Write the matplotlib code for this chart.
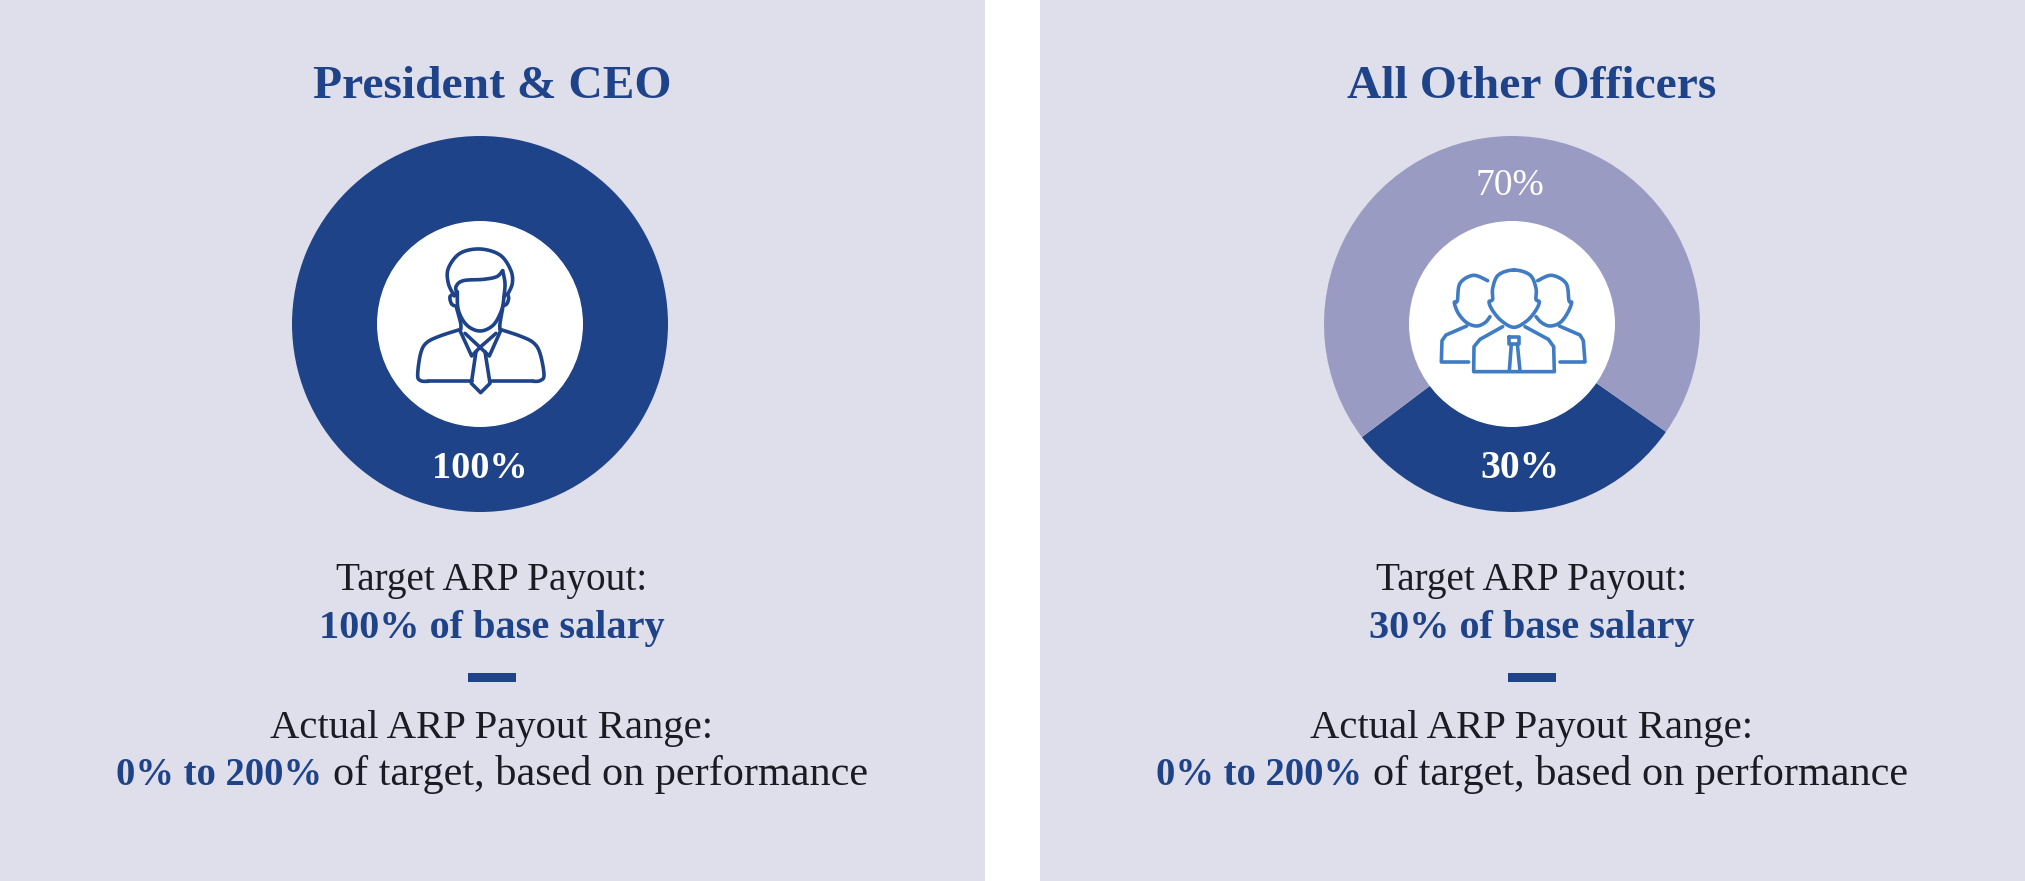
import numpy as np
import matplotlib
matplotlib.use('Agg')
import matplotlib.pyplot as plt
from matplotlib.patches import Circle, Rectangle

W, H = 2025, 881
NAVY = '#1e4388'
LILAC = '#9a9bc2'
PANEL = '#dfdfec'
INK = '#1b1b24'
ICON_BLUE = '#3f7cc4'
SERIF = 'Liberation Serif'

titles = ['President & CEO', 'All Other Officers']
ceo_shares = [100]
officer_shares = [30, 70]
ceo_labels = ['100%']
officer_labels = ['30%', '70%']
target_lines = ['100% of base salary', '30% of base salary']
range_bold = '0% to 200%'
range_rest = ' of target, based on performance'

fig = plt.figure(figsize=(W / 100, H / 100), dpi=100, facecolor='white')
bg = fig.add_axes([0, 0, 1, 1])
bg.set_xlim(0, W)
bg.set_ylim(H, 0)
bg.axis('off')


def donut(cx, cy, r, shares, colors, start):
    ax = fig.add_axes([(cx - r) / W, 1 - (cy + r) / H, 2 * r / W, 2 * r / H])
    ax.pie(shares, colors=colors, startangle=start, counterclock=True, radius=1,
           wedgeprops={'linewidth': 0})
    ax.set_xlim(-1, 1)
    ax.set_ylim(-1, 1)
    ax.add_patch(Circle((0, 0), 103 / r, fc='white', ec='none'))
    ax.patch.set_alpha(0)
    return ax


def smooth(pts, closed=False, n=12):
    # catmull-rom through the traced points, keeps the icons from looking polygonal
    p = np.array(pts, dtype=float)
    if closed:
        p = np.vstack([p[-1], p, p[0], p[1]])
    else:
        p = np.vstack([p[0], p, p[-1]])
    out = []
    t = np.linspace(0, 1, n, endpoint=False)[:, None]
    for i in range(1, len(p) - 2):
        a, b, c, d = p[i - 1], p[i], p[i + 1], p[i + 2]
        out.append(0.5 * (2 * b + (c - a) * t + (2 * a - 5 * b + 4 * c - d) * t ** 2
                          + (3 * b - a - 3 * c + d) * t ** 3))
    out.append(p[len(p) - 2][None])
    return np.vstack(out)


def stroke(ax0, ox, oy, pts, color, curved=True, closed=False, lw=2.6):
    xy = smooth(pts, closed) if curved else np.array(pts, dtype=float)
    if closed and not curved:
        xy = np.vstack([xy, xy[0]])
    ax0.plot(ox + xy[:, 0] / 3, oy + xy[:, 1] / 3, color=color, lw=lw,
             solid_capstyle='round', solid_joinstyle='round', zorder=6)


def mixed_line(left, base_y, bold, rest, bold_size, rest_size):
    # bold run followed by a regular run on the same baseline
    t = bg.text(left, base_y, bold, family=SERIF, weight='bold', color=NAVY, fontsize=bold_size, va='baseline', ha='left')
    fig.canvas.draw()
    box = t.get_window_extent()
    bg.text(box.x1 + 11, base_y, rest.strip(), family=SERIF, color=INK, fontsize=rest_size, va='baseline', ha='left')


def panel(x0, x1, title, target, text_dx):
    bg.add_patch(Rectangle((x0, 0), x1 - x0, H, fc=PANEL, ec='none'))
    mid = 492 + text_dx
    bg.text(mid, 98, title, family=SERIF, weight='bold', color=NAVY, fontsize=34.2, ha='center', va='baseline')
    bg.text(mid, 590, 'Target ARP Payout:', family=SERIF, color=INK, fontsize=28.3, ha='center', va='baseline')
    bg.text(mid, 638, target, family=SERIF, weight='bold', color=NAVY, fontsize=29, ha='center', va='baseline')
    bg.add_patch(Rectangle((mid - 24, 673), 48, 9, fc=NAVY, ec='none'))
    bg.text(mid, 738, 'Actual ARP Payout Range:', family=SERIF, color=INK, fontsize=29.3, ha='center', va='baseline')
    mixed_line(116 + text_dx, 785, range_bold, range_rest, 27.8, 30.4)


panel(0, 985, titles[0], target_lines[0], 0)
panel(1040, W, titles[1], target_lines[1], 1040)

# donuts sit a little left of the panel centres
fig.canvas.draw()
donut(480, 324, 188, ceo_shares, [NAVY], 90)
donut(1512, 324, 188, officer_shares, [NAVY, LILAC], 217)

fg = fig.add_axes([0, 0, 1, 1])
fg.set_xlim(0, W)
fg.set_ylim(H, 0)
fg.axis('off')
fg.patch.set_alpha(0)

fg.text(480, 478, ceo_labels[0], family=SERIF, weight='bold', color='white', fontsize=27.5, ha='center', va='baseline')
fg.text(1520, 478, officer_labels[0], family=SERIF, weight='bold', color='white', fontsize=28.5, ha='center', va='baseline')
fg.text(1510, 195, officer_labels[1], family=SERIF, color='white', fontsize=27, ha='center', va='baseline')

# president icon, traced in zoomed-crop coordinates
ox, oy = 270, 120
for pts in [
    [(553, 528), (535, 490), (535, 445), (570, 400), (630, 387), (690, 405), (722, 450), (727, 490), (712, 525)],
    [(562, 525), (558, 500), (580, 482), (640, 478), (680, 470), (698, 452)],
    [(698, 452), (705, 490), (702, 530)],
    [(562, 515), (565, 570), (590, 615), (630, 633), (670, 615), (695, 570), (702, 530)],
    [(553, 522), (540, 530), (545, 552), (562, 560)],
    [(712, 522), (716, 535), (710, 552), (698, 558)],
    [(560, 565), (572, 610), (572, 628)],
    [(698, 565), (690, 610), (690, 628)],
    [(572, 628), (510, 648), (470, 668), (452, 700), (443, 765), (452, 782), (475, 784)],
    [(690, 628), (750, 648), (790, 668), (810, 700), (822, 765), (810, 782), (790, 784)],
]:
    stroke(fg, ox, oy, pts, NAVY)
for pts in [
    [(475, 784), (605, 784)],
    [(660, 784), (790, 784)],
    [(570, 632), (605, 708), (630, 682), (658, 708), (692, 632)],
    [(585, 640), (630, 682), (678, 640)],
    [(618, 695), (604, 790), (632, 818), (660, 790), (645, 695)],
]:
    stroke(fg, ox, oy, pts, NAVY, curved=False)

# officers icon
ox, oy = 1310, 120
stroke(fg, ox, oy, [(612, 450), (565, 465), (548, 505), (548, 538), (537, 546), (548, 572), (575, 603),
                    (612, 622), (650, 603), (677, 572), (688, 546), (678, 538), (678, 505), (660, 465)],
       ICON_BLUE, closed=True)
stroke(fg, ox, oy, [(533, 482), (490, 466), (450, 490), (442, 542), (433, 548), (445, 580), (470, 608), (500, 618), (525, 608), (540, 590)], ICON_BLUE)
stroke(fg, ox, oy, [(683, 482), (725, 466), (768, 490), (777, 542), (785, 548), (772, 580), (750, 608), (720, 618), (695, 608), (678, 590)], ICON_BLUE)
for pts in [
    [(578, 620), (510, 658), (492, 680), (491, 755), (733, 755), (731, 680), (715, 658), (645, 620)],
    [(470, 618), (408, 645), (396, 662), (394, 726), (476, 726)],
    [(748, 618), (810, 645), (820, 662), (825, 726), (750, 726)],
    [(598, 652), (628, 652), (628, 672), (598, 672), (598, 652)],
    [(604, 672), (598, 752)],
    [(622, 672), (630, 752)],
]:
    stroke(fg, ox, oy, pts, ICON_BLUE, curved=False)

fig.savefig('out.png', dpi=100)
